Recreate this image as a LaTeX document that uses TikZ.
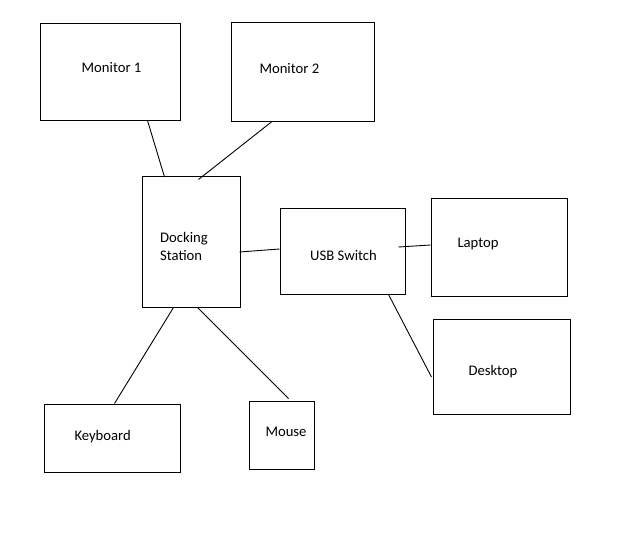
\documentclass[tikz,border=0pt]{standalone}
\usepackage{fontspec}
\setmainfont{Carlito}
\begin{document}
\begin{tikzpicture}[x=1pt,y=-1pt,
  box/.style={draw=black,line width=1pt,rectangle,inner sep=0pt,minimum width=#1},
  lbl/.style={inner sep=0pt,font=\fontsize{14.67}{17.3}\selectfont,anchor=base west},
  wire/.style={draw=black,line width=0.9pt}]
\useasboundingbox[fill=white] (0,0) rectangle (624,535);
% boxes
\node[box=140pt,minimum height=96pt] (m1) at (110,72) {};
\node[box=143pt,minimum height=98pt] (m2) at (302.5,72) {};
\node[box=98pt,minimum height=131pt] (dock) at (191,241.5) {};
\node[box=125pt,minimum height=86pt] (usb) at (342.5,251) {};
\node[box=136pt,minimum height=98pt] (laptop) at (499,247) {};
\node[box=137pt,minimum height=95pt] (desktop) at (501.5,366.5) {};
\node[box=136pt,minimum height=68pt] (kbd) at (112,438) {};
\node[box=65pt,minimum height=68pt] (mouse) at (281.5,435) {};
% labels
\node[lbl] (tm1) at (81.5,72.3) {Monitor 1};
\node[lbl] (tm2) at (259.3,74) {Monitor 2};
\node[lbl,anchor=west,align=left] (tdock) at (160,246.4) {Docking\\Station};
\node[lbl] (tusb) at (310,260) {USB Switch};
\node[lbl] (tlap) at (457.3,247.3) {Laptop};
\node[lbl] (tdesk) at (468.3,375.7) {Desktop};
\node[lbl] (tkbd) at (74.3,440.7) {Keyboard};
\node[lbl] (tmouse) at (265.3,436.7) {Mouse};
% connectors
\draw[wire] ([xshift=108pt]m1.south west) -- ([xshift=23pt,yshift=-1.5pt]dock.north west);
\draw[wire] ([xshift=41.5pt]m2.south west) -- ([xshift=57pt,yshift=-4pt]dock.north west);
\draw[wire] ([xshift=-1pt,yshift=-10.5pt]dock.east) -- ([yshift=2pt]usb.west);
\draw[wire] ([xshift=-7pt,yshift=4pt]usb.east) -- ([yshift=2pt]laptop.west);
\draw[wire] ([xshift=-17pt]usb.south east) -- ([xshift=-1pt,yshift=-10.5pt]desktop.west);
\draw[wire] ([xshift=32pt]dock.south west) -- ([xshift=71pt]kbd.north west);
\draw[wire] ([xshift=56pt]dock.south west) -- ([xshift=40pt,yshift=2pt]mouse.north west);
\end{tikzpicture}
\end{document}
